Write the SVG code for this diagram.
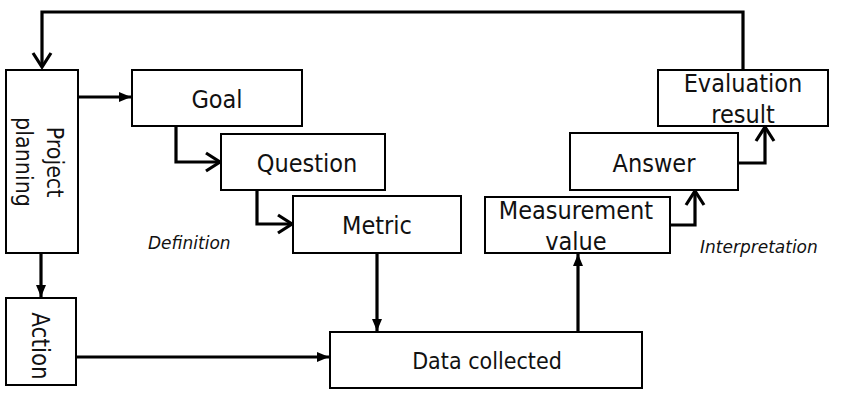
<svg xmlns="http://www.w3.org/2000/svg" width="844" height="400" viewBox="0 0 844 400">
<style>
.box{fill:#fff;stroke:#000;stroke-width:2}
.lbl{font-family:"DejaVu Sans Condensed","DejaVu Sans",Verdana,sans-serif;font-stretch:condensed;font-size:25px;fill:#111;text-anchor:middle}
.it{font-family:"DejaVu Sans",Verdana,sans-serif;font-size:17px;font-style:italic;fill:#111}
.c{fill:none;stroke:#000;stroke-width:3.2}
</style>
<defs>
<marker id="fa" markerUnits="userSpaceOnUse" markerWidth="12" markerHeight="10" refX="12" refY="5" orient="auto" overflow="visible"><path d="M0,0 L12,5 L0,10 z" fill="#000"/></marker>
<marker id="oa" markerUnits="userSpaceOnUse" markerWidth="16" markerHeight="20" refX="15" refY="10" orient="auto" overflow="visible"><path d="M1,1 L15,10 L1,19" fill="none" stroke="#000" stroke-width="3.2"/></marker>
</defs>
<rect width="844" height="400" fill="#fff"/>
<g id="connectors">
<polyline class="c" points="743,70 743,12 42,12 42,67" marker-end="url(#oa)"/>
<line class="c" x1="78" y1="97" x2="131" y2="97" marker-end="url(#fa)"/>
<polyline class="c" points="176,126 176,162 220,162" marker-end="url(#oa)"/>
<polyline class="c" points="257,190 257,224 292,224" marker-end="url(#oa)"/>
<line class="c" x1="41" y1="253" x2="41" y2="297" marker-end="url(#fa)"/>
<line class="c" x1="76" y1="357" x2="329" y2="357" marker-end="url(#fa)"/>
<line class="c" x1="377" y1="253" x2="377" y2="331" marker-end="url(#fa)"/>
<line class="c" x1="578" y1="332" x2="578" y2="254" marker-end="url(#fa)"/>
<polyline class="c" points="670,225 695,225 695,191" marker-end="url(#oa)"/>
<polyline class="c" points="738,163 765,163 765,127" marker-end="url(#oa)"/>
</g>
<g id="project-planning">
<rect class="box" x="6" y="70" width="72" height="183"/>
<text class="lbl" style="font-size:23px" transform="translate(42,162) rotate(90)"><tspan x="0" y="-5">Project</tspan><tspan x="0" y="26">planning</tspan></text>
</g>
<g id="action">
<rect class="box" x="6" y="298" width="70" height="87"/>
<text class="lbl" style="font-size:24px" transform="translate(41,346) rotate(90)"><tspan x="0" y="9">Action</tspan></text>
</g>
<g id="goal">
<rect class="box" x="132" y="70" width="170" height="56"/>
<text class="lbl" x="217" y="108">Goal</text>
</g>
<g id="question">
<rect class="box" x="221" y="134" width="164" height="56"/>
<text class="lbl" x="307" y="172">Question</text>
</g>
<g id="metric">
<rect class="box" x="293" y="196" width="168" height="57"/>
<text class="lbl" x="377" y="234">Metric</text>
</g>
<g id="data-collected">
<rect class="box" x="330" y="332" width="312" height="56"/>
<text class="lbl" x="487" y="369" style="font-size:23px">Data collected</text>
</g>
<g id="measurement-value">
<rect class="box" x="485" y="197" width="185" height="56"/>
<text class="lbl" x="576" y="219">Measurement</text>
<text class="lbl" x="576" y="250">value</text>
</g>
<g id="answer">
<rect class="box" x="570" y="133" width="168" height="57"/>
<text class="lbl" x="654" y="172">Answer</text>
</g>
<g id="evaluation-result">
<rect class="box" x="658" y="70" width="170" height="56"/>
<text class="lbl" x="743" y="92">Evaluation</text>
<text class="lbl" x="743" y="123">result</text>
</g>
<g id="labels">
<text class="it" x="148" y="249">Definition</text>
<text class="it" x="700" y="253">Interpretation</text>
</g>
</svg>
